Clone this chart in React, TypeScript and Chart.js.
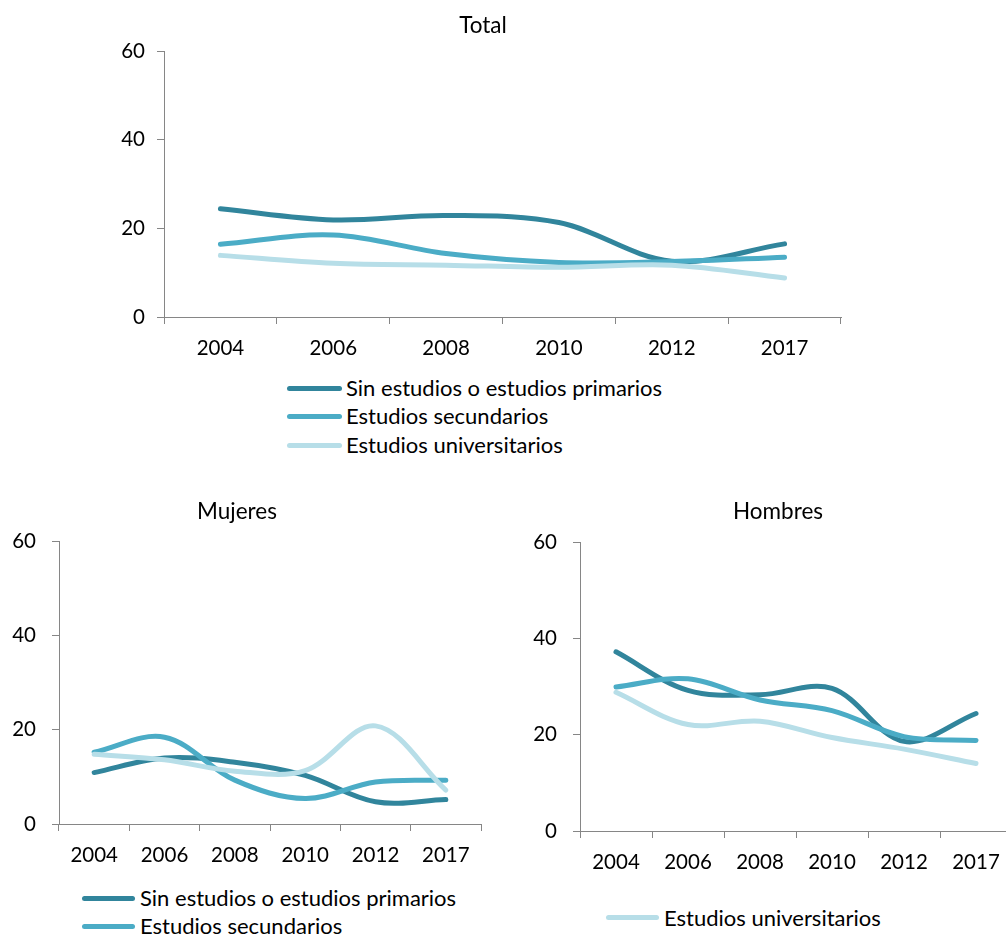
import React, { useEffect, useRef } from 'react';
import { Chart, registerables } from 'chart.js';

Chart.register(...registerables);

// ---- data ----
const years = ['2004', '2006', '2008', '2010', '2012', '2017'];
const seriesNames = [
  'Sin estudios o estudios primarios',
  'Estudios secundarios',
  'Estudios universitarios',
];
const seriesColors = ['#31859C', '#4BACC6', '#B7DEE8'];
const yTicks = [0, 20, 40, 60];

const totalSin = [24.4, 21.9, 22.9, 21.3, 12.6, 16.5];
const totalSec = [16.4, 18.5, 14.3, 12.3, 12.5, 13.5];
const totalUni = [13.9, 12.1, 11.7, 11.2, 11.7, 8.8];

const mujeresSin = [10.9, 14.0, 13.1, 10.3, 4.7, 5.2];
const mujeresSec = [15.2, 18.4, 9.3, 5.4, 8.9, 9.3];
const mujeresUni = [14.8, 13.6, 11.2, 11.3, 20.8, 7.2];

const hombresSin = [37.2, 29.2, 28.3, 29.6, 18.6, 24.4];
const hombresSec = [29.9, 31.6, 27.2, 25.0, 19.6, 18.8];
const hombresUni = [28.8, 22.1, 22.8, 19.4, 17.0, 14.0];

const FONT = 'Lato, sans-serif';
const AXIS = '#868686';

type PanelProps = {
  title: string;
  series: number[][];
  left: number;
  top: number;
  width: number;
  height: number;
  yAxisWidth: number;
  xAxisHeight: number;
  padRight: number;
  titlePadTop: number;
  titlePadBottom: number;
  yLabelPad: number;
};

function Panel(p: PanelProps) {
  const ref = useRef<HTMLCanvasElement>(null);
  useEffect(() => {
    if (!ref.current) return;
    const tickFont = { family: FONT, size: 20.5, weight: 'normal' as const, lineHeight: 1.2 };
    const titleFont = { family: FONT, size: 22.5, weight: 'normal' as const, lineHeight: 1.2 };
    const chart = new Chart(ref.current, {
      type: 'line',
      data: {
        labels: years,
        datasets: p.series.map((d, i) => ({
          label: seriesNames[i],
          data: d,
          borderColor: seriesColors[i],
          backgroundColor: seriesColors[i],
          borderWidth: 5,
          borderCapStyle: 'round' as const,
          borderJoinStyle: 'round' as const,
          pointRadius: 0,
          pointHoverRadius: 0,
          tension: 0.35,
          fill: false,
          order: 2 - i,
          yAxisID: 'y',
        })),
      },
      options: {
        responsive: false,
        animation: false,
        events: [],
        layout: { padding: 0 },
        plugins: {
          legend: { display: false },
          tooltip: { enabled: false },
          title: {
            display: true,
            text: p.title,
            color: '#000',
            font: titleFont,
            padding: { top: p.titlePadTop, bottom: p.titlePadBottom },
          },
        },
        scales: {
          x: {
            type: 'category',
            offset: true,
            grid: {
              offset: true,
              drawOnChartArea: false,
              drawTicks: true,
              tickLength: 7,
              color: AXIS,
              lineWidth: 1,
            },
            border: { display: true, color: AXIS, width: 1 },
            ticks: {
              color: '#000',
              font: tickFont,
              padding: 11.7,
              maxRotation: 0,
              autoSkip: false,
            },
            afterFit: (s: any) => {
              s.height = p.xAxisHeight;
            },
          },
          y: {
            type: 'linear',
            position: 'left',
            min: 0,
            max: 60,
            afterBuildTicks: (s: any) => {
              s.ticks = yTicks.map((v) => ({ value: v }));
            },
            grid: {
              drawOnChartArea: false,
              drawTicks: true,
              tickLength: 7,
              color: AXIS,
              lineWidth: 1,
            },
            border: { display: true, color: AXIS, width: 1 },
            ticks: {
              color: '#000',
              font: tickFont,
              padding: p.yLabelPad,
            },
            afterFit: (s: any) => {
              s.width = p.yAxisWidth;
            },
          },
          // invisible spacer on the right so the title stays centred on the whole canvas
          yRight: {
            type: 'linear',
            position: 'right',
            display: true,
            grid: { display: false, drawTicks: false },
            border: { display: false },
            ticks: { display: false },
            afterFit: (s: any) => {
              s.width = p.padRight;
            },
          },
        },
      },
    });
    return () => chart.destroy();
  }, []);
  return (
    <canvas
      ref={ref}
      width={p.width}
      height={p.height}
      style={{ position: 'absolute', left: p.left, top: p.top, width: p.width, height: p.height }}
    />
  );
}

type LegendProps = {
  items: number[];
  left: number;
  top: number;
  rowHeight: number;
  lineWidth: number;
  gap: number;
};

function Legend(l: LegendProps) {
  return (
    <div style={{ position: 'absolute', left: l.left, top: l.top }}>
      {l.items.map((i) => (
        <div key={i} style={{ display: 'flex', alignItems: 'center', height: l.rowHeight }}>
          <span
            style={{
              display: 'inline-block',
              width: l.lineWidth,
              height: 5,
              borderRadius: 3,
              background: seriesColors[i],
              marginRight: l.gap,
              flex: 'none',
            }}
          />
          <span style={{ fontFamily: FONT, fontSize: 22, color: '#000', whiteSpace: 'nowrap', lineHeight: 1.2 }}>
            {seriesNames[i]}
          </span>
        </div>
      ))}
    </div>
  );
}

export default function App() {
  return (
    <div
      style={{
        position: 'absolute',
        left: 0,
        top: 0,
        width: 1006,
        height: 935,
        overflow: 'hidden',
        background: '#fff',
      }}
    >
      <Panel
        title="Total"
        series={[totalSin, totalSec, totalUni]}
        left={0}
        top={0}
        width={966}
        height={370}
        yAxisWidth={164}
        xAxisHeight={53}
        padRight={125}
        titlePadTop={12.5}
        titlePadBottom={11.5}
        yLabelPad={12}
      />
      <Legend items={[0, 1, 2]} left={287} top={373.75} rowHeight={28.5} lineWidth={55} gap={4} />

      <Panel
        title="Mujeres"
        series={[mujeresSin, mujeresSec, mujeresUni]}
        left={-10}
        top={485}
        width={494}
        height={392}
        yAxisWidth={69}
        xAxisHeight={53}
        padRight={3}
        titlePadTop={13.5}
        titlePadBottom={15.5}
        yLabelPad={16}
      />
      <Legend items={[0, 1]} left={82} top={884} rowHeight={28.4} lineWidth={53} gap={5} />

      <Panel
        title="Hombres"
        series={[hombresSin, hombresSec, hombresUni]}
        left={530}
        top={485}
        width={496}
        height={399}
        yAxisWidth={50}
        xAxisHeight={53}
        padRight={14}
        titlePadTop={13.5}
        titlePadBottom={16.5}
        yLabelPad={16}
      />
      <Legend items={[2]} left={606} top={903.5} rowHeight={28.4} lineWidth={53} gap={5} />
    </div>
  );
}
